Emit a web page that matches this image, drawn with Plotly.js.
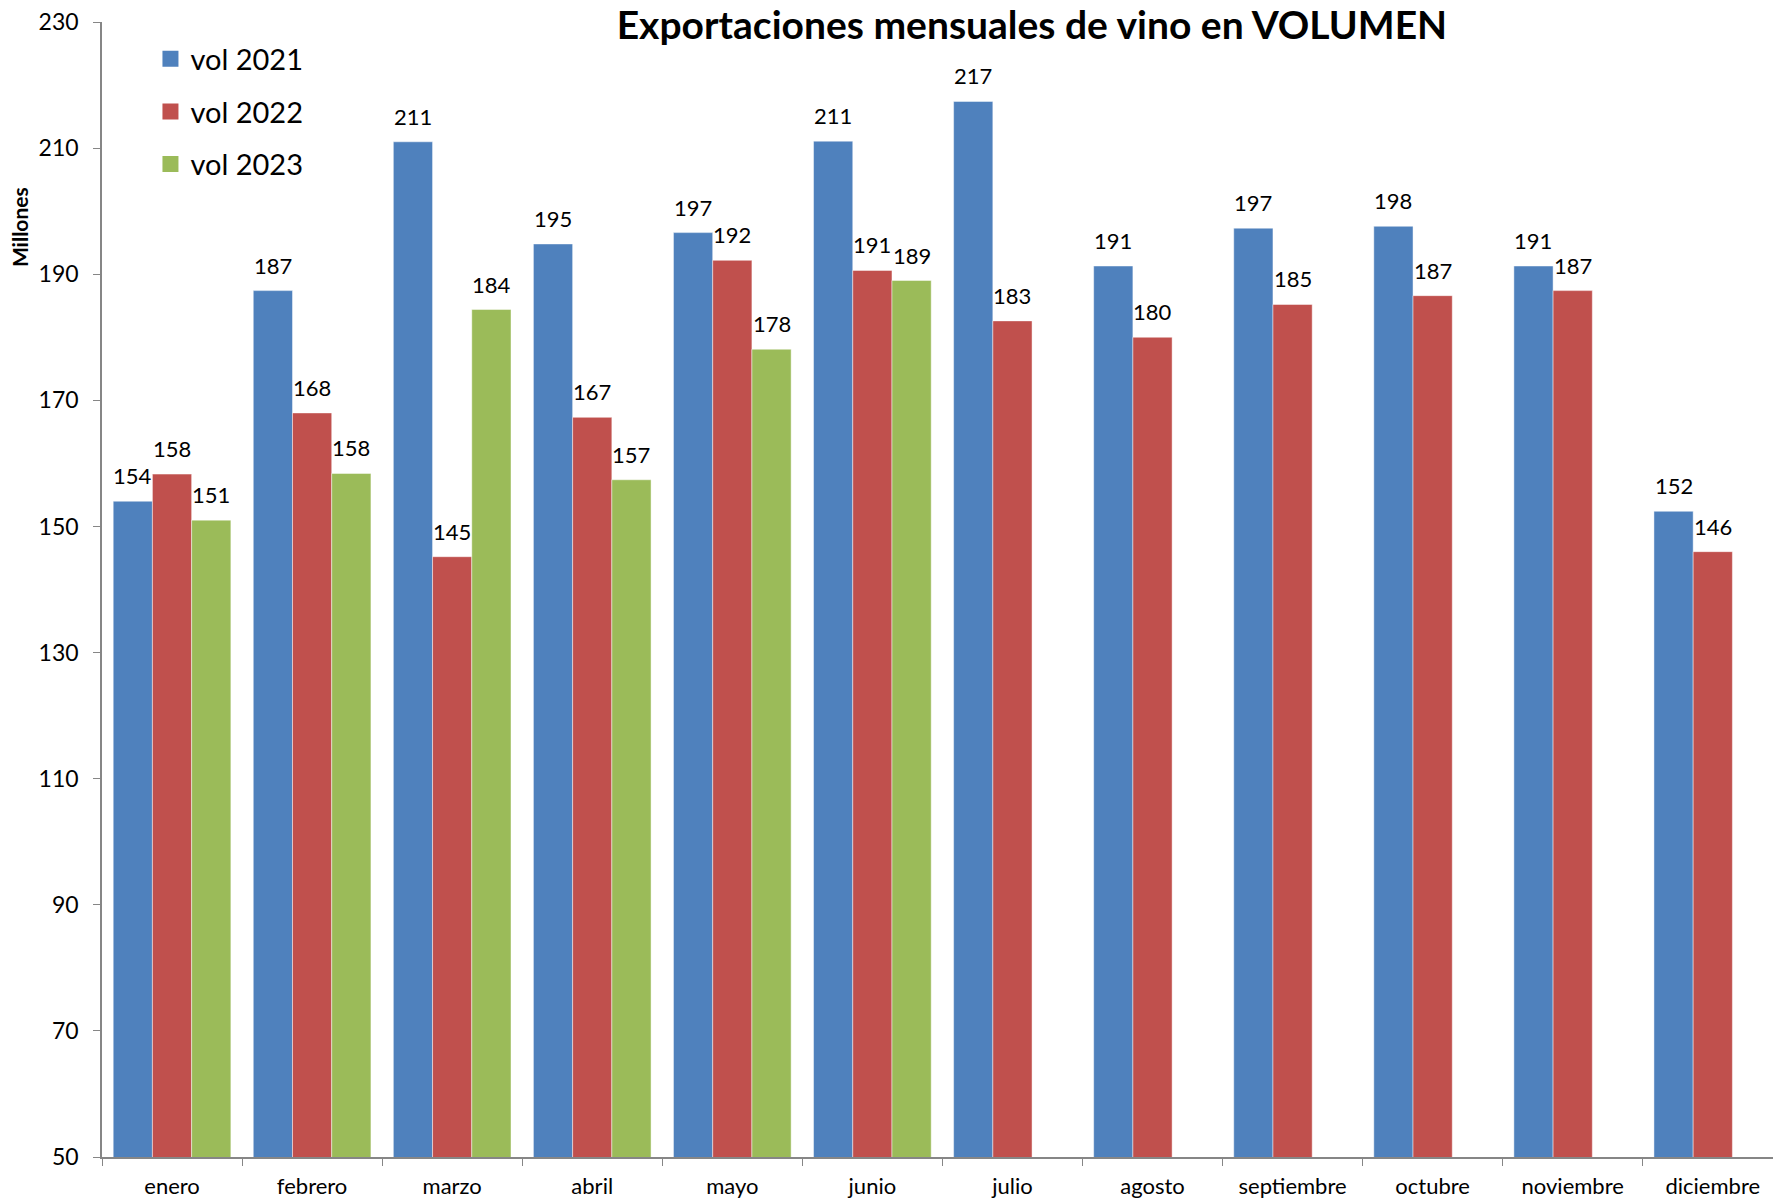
<!DOCTYPE html>
<html>
<head>
<meta charset="utf-8">
<script src="https://cdn.plot.ly/plotly-3.0.1.min.js"></script>
<style>
html,body{margin:0;padding:0;background:#fff;overflow:hidden;}
#chart{width:1773px;height:1200px;}
</style>
</head>
<body>
<div id="chart"></div>
<script>
const months = ["enero","febrero","marzo","abril","mayo","junio","julio","agosto","septiembre","octubre","noviembre","diciembre"];
const vol2021 = [154.0, 187.4, 211.0, 194.8, 196.6, 211.1, 217.4, 191.3, 197.3, 197.6, 191.3, 152.4];
const vol2022 = [158.3, 168.0, 145.2, 167.3, 192.2, 190.6, 182.6, 180.0, 185.2, 186.6, 187.4, 146.0];
const vol2023 = [151.0, 158.4, 184.4, 157.4, 178.1, 189.0, null, null, null, null, null, null];
const seriesNames = ["vol 2021", "vol 2022", "vol 2023"];
const colors = ["#4F81BD", "#C0504D", "#9BBB59"];

const FONT = "Lato, 'Open Sans', sans-serif";
const BARGAP = 0.16;
const NSER = 3;
const slot = (1 - BARGAP) / NSER;

const allSeries = [vol2021, vol2022, vol2023];

const data = [];
allSeries.forEach((vals, i) => {
  data.push({
    type: "bar",
    name: seriesNames[i],
    legendgroup: "g" + i,
    showlegend: false,
    x: months,
    y: vals,
    marker: {color: colors[i], line: {color: "rgba(255,255,255,0.45)", width: 1}},
    hoverinfo: "x+y"
  });
});
// legend entries (square swatches)
allSeries.forEach((vals, i) => {
  data.push({
    type: "scatter",
    mode: "markers",
    name: seriesNames[i],
    legendgroup: "g" + i,
    x: [null], y: [null],
    marker: {symbol: "square", size: 19, color: colors[i]},
    hoverinfo: "skip"
  });
});

// data labels above each bar, positioned on the axis scales
const labelAnns = [];
allSeries.forEach((vals, i) => {
  vals.forEach((v, j) => {
    if (v == null) return;
    labelAnns.push({
      xref: "x", yref: "y",
      x: j + (i - (NSER - 1) / 2) * slot,
      y: v,
      text: String(Math.round(v)),
      showarrow: false,
      xanchor: "center", yanchor: "bottom",
      yshift: 10,
      font: {family: FONT, size: 22, color: "#000"}
    });
  });
});

const layout = {
  width: 1773,
  height: 1200,
  paper_bgcolor: "#fff",
  plot_bgcolor: "#fff",
  margin: {l: 102, r: 0, t: 22, b: 43, pad: 0},
  font: {family: FONT, size: 20, color: "#000"},
  barmode: "group",
  bargap: BARGAP,
  bargroupgap: 0,
  title: {
    text: "<b>Exportaciones mensuales de vino en VOLUMEN</b>",
    font: {family: FONT, size: 39, color: "#000"},
    x: 0.582, xref: "container", xanchor: "center",
    y: 0.979, yref: "container", yanchor: "middle"
  },
  xaxis: {
    type: "category",
    range: [-0.5, 11.43],
    tickson: "boundaries",
    ticks: "outside",
    ticklen: 7,
    tickcolor: "#868686",
    showline: true,
    linecolor: "#868686",
    linewidth: 1.5,
    showgrid: false,
    zeroline: false,
    ticklabelstandoff: 9,
    tickfont: {family: FONT, size: 22, color: "#000"}
  },
  yaxis: {
    range: [50, 230],
    dtick: 20,
    tick0: 50,
    ticks: "outside",
    ticklen: 7,
    tickcolor: "#868686",
    showline: true,
    linecolor: "#868686",
    linewidth: 1.5,
    showgrid: false,
    zeroline: false,
    ticklabelstandoff: 10,
    tickfont: {family: FONT, size: 23, color: "#000"}
  },
  showlegend: true,
  legend: {
    x: 0.029, xanchor: "left",
    y: 0.990, yanchor: "top",
    traceorder: "grouped",
    tracegroupgap: 12,
    itemsizing: "trace",
    bgcolor: "rgba(0,0,0,0)",
    font: {family: FONT, size: 29, color: "#000"}
  },
  annotations: labelAnns.concat([{
    text: "<b>Millones</b>",
    textangle: -90,
    xref: "paper", yref: "paper",
    x: -0.049, y: 0.8194,
    xanchor: "center", yanchor: "middle",
    showarrow: false,
    font: {family: FONT, size: 21, color: "#000"}
  }])
};

Plotly.newPlot("chart", data, layout, {displayModeBar: false, responsive: false});
</script>
</body>
</html>
